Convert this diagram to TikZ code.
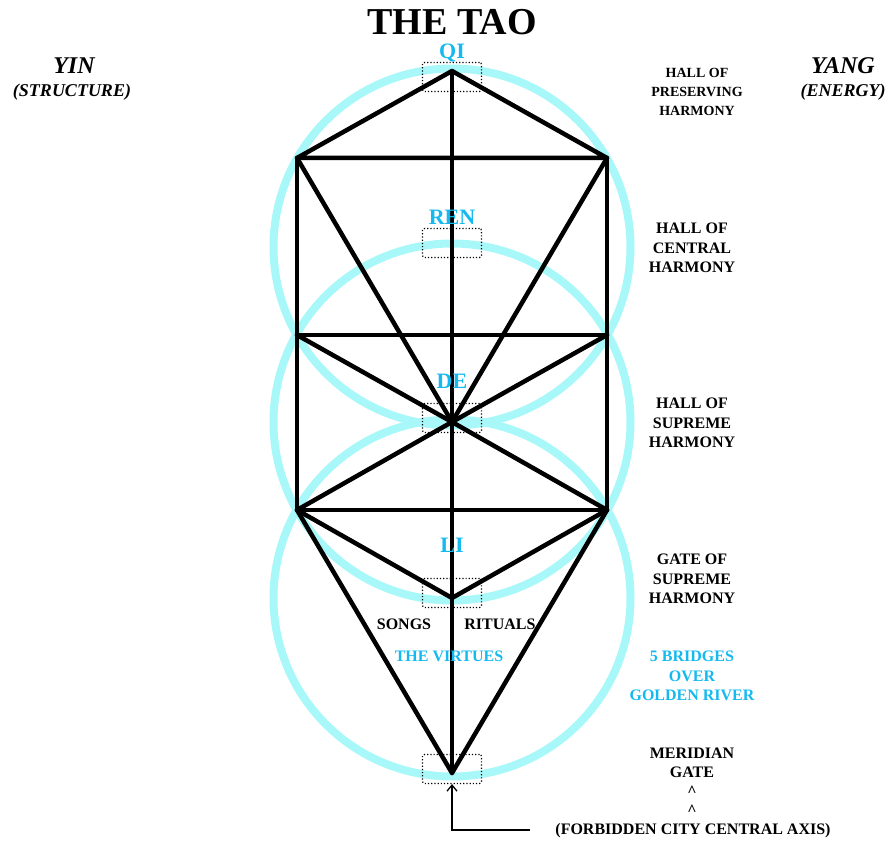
\documentclass[tikz,border=0pt]{standalone}
\usepackage{fontspec}
\setmainfont{Liberation Serif}
\usetikzlibrary{arrows.meta}
\definecolor{ringc}{RGB}{168,248,250}
\definecolor{labc}{RGB}{20,185,240}
\begin{document}
\begin{tikzpicture}[x=1pt,y=-1pt,
  ring/.style={draw=ringc,line width=8pt},
  bar/.style={draw=black,line width=4.5pt,line cap=round,line join=round},
  dotbox/.style={draw=black,dotted,line width=1.2pt,rounded corners=2pt,minimum width=59pt,minimum height=29pt,inner sep=0pt},
  cyanlab/.style={text=labc,font=\bfseries\fontsize{22}{24}\selectfont,inner sep=0pt},
  sidesmall/.style={font=\bfseries\fontsize{14}{19}\selectfont,align=center,inner sep=0pt},
  side/.style={font=\bfseries\fontsize{16}{19.5}\selectfont,align=center,inner sep=0pt},
  sidecyan/.style={side,text=labc},
  small/.style={font=\bfseries\fontsize{16}{18}\selectfont,inner sep=0pt},
  yy/.style={font=\bfseries\itshape\fontsize{24}{26}\selectfont,inner sep=0pt},
  yysub/.style={font=\bfseries\itshape\fontsize{18}{20}\selectfont,inner sep=0pt}]
\useasboundingbox (0,0) rectangle (892,842);
% vertices
\coordinate (qi) at (452,71);
\coordinate (tl) at (297,158);
\coordinate (tr) at (607,158);
\coordinate (ml) at (297,335);
\coordinate (mr) at (607,335);
\coordinate (de) at (452,422);
\coordinate (bl) at (297,510);
\coordinate (br) at (607,510);
\coordinate (li) at (452,598);
\coordinate (mg) at (452,773);
% circles
\draw[ring] (452,247) circle (178.5);
\draw[ring] (452,422) circle (178.5);
\draw[ring] (452,598) circle (178.5);
% dotted boxes
\node[dotbox] (bqi) at (452,77) {};
\node[dotbox] (bren) at (452,243) {};
\node[dotbox] (bde) at (452,418) {};
\node[dotbox] (bli) at (452,593) {};
\node[dotbox] (bmg) at (452,769) {};
% lines
\draw[bar] (tl) -- (qi) -- (tr) -- cycle;
\draw[bar] (tl) -- (bl) -- (br) -- (tr);
\draw[bar] (ml) -- (mr);
\draw[bar] (tl) -- (de) -- (tr);
\draw[bar] (ml) -- (de) -- (mr);
\draw[bar] (bl) -- (de) -- (br);
\draw[bar] (bl) -- (li) -- (br);
\draw[bar] (bl) -- (mg) -- (br);
\draw[bar] (qi) -- (mg);
% title
\node[font=\bfseries\fontsize{38}{40}\selectfont,inner sep=0pt] (title) at (452,22) {THE TAO};
% cyan labels
\node[cyanlab] (lqi) at (452,53) {QI};
\node[cyanlab] (lren) at (452,217) {REN};
\node[cyanlab] (lde) at (452,381) {DE};
\node[cyanlab] (lli) at (452,545) {LI};
\node[small] (songs) at (404,624) {SONGS};
\node[small] (rituals) at (500,624) {RITUALS};
\node[small,text=labc] (virtues) at (449,656) {THE VIRTUES};
% yin yang
\node[yy] (yin) at (74,66) {YIN};
\node[yysub] (struct) at (72,92) {(STRUCTURE)};
\node[yy] (yang) at (843,66) {YANG};
\node[yysub] (energy) at (843,92) {(ENERGY)};
% right labels
\node[sidesmall] (h1) at (697,92) {HALL OF\\PRESERVING\\HARMONY};
\node[side] (h2) at (692,248) {HALL OF\\CENTRAL\\HARMONY};
\node[side] (h3) at (692,423) {HALL OF\\SUPREME\\HARMONY};
\node[side] (h4) at (692,579) {GATE OF\\SUPREME\\HARMONY};
\node[sidecyan] (br5) at (692,676) {5 BRIDGES\\OVER\\GOLDEN RIVER};
\node[font=\bfseries\fontsize{16}{19}\selectfont,align=center,inner sep=0pt] (mer) at (692,782) {MERIDIAN\\GATE\\\textasciicircum\\\textasciicircum};
\node[small] (axis) at (693,831) {(FORBIDDEN CITY CENTRAL AXIS)};
% arrow
\coordinate (aend) at (530,830);
\coordinate (abend) at (452,830);
\draw[line width=1.3pt,-{Straight Barb[length=6pt,width=10pt]}] (aend) -- (abend) -- (bmg.south);
\end{tikzpicture}
\end{document}
